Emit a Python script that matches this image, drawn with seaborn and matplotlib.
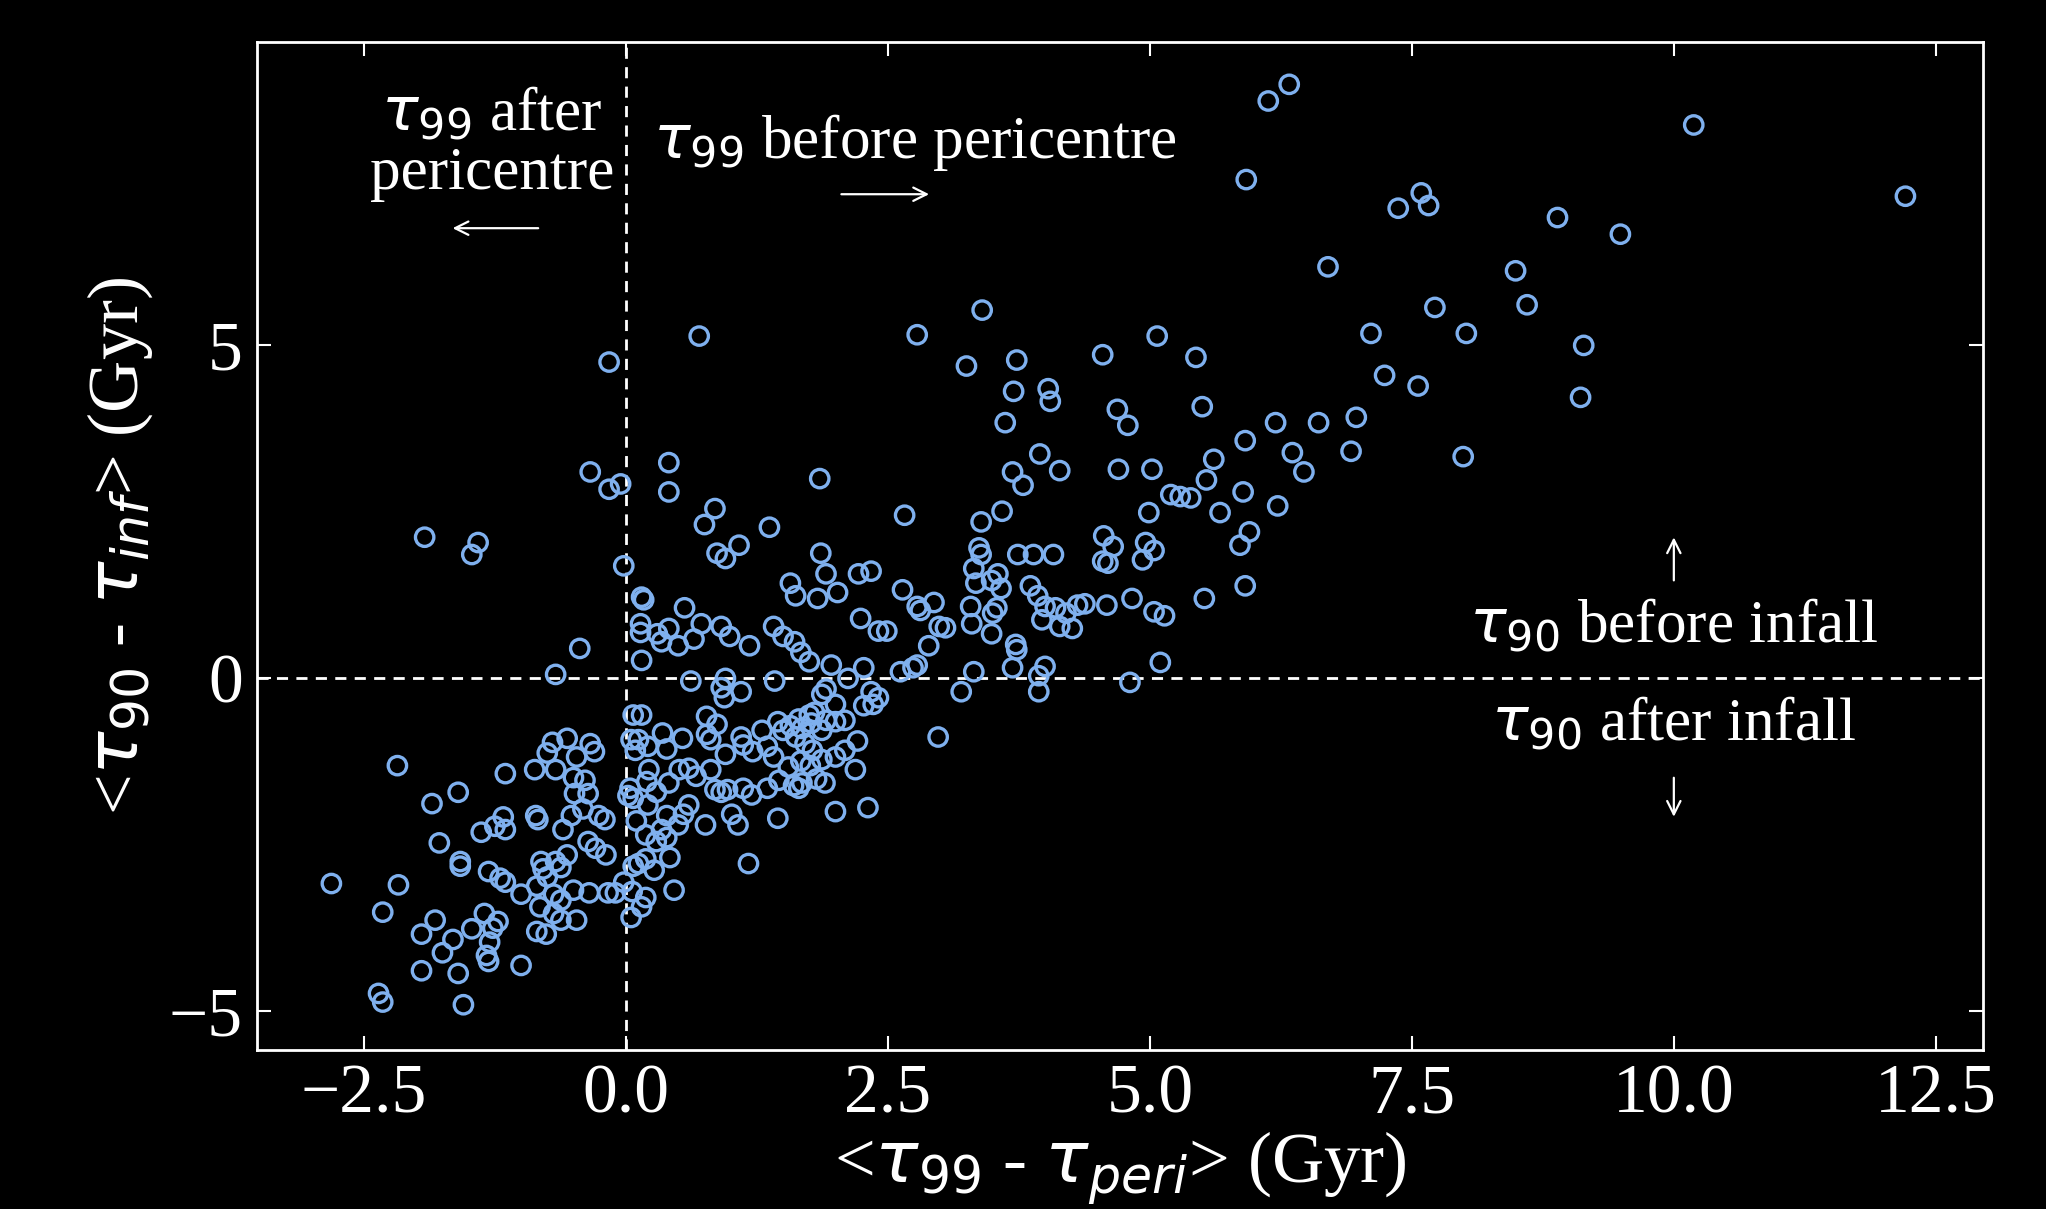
"""
Satellite quenching timescales: tau99 - tau_peri vs tau90 - tau_inf
"""
import numpy as np
import pandas as pd
import matplotlib
matplotlib.use("Agg")
import matplotlib.pyplot as plt
import seaborn as sns

# <tau99 - tau_peri> (Gyr)
dt_peri = [
    6.33, 6.13, 10.19, 12.21, 5.92, 7.59, 7.37, 7.66, 8.89, 9.49,
    6.70, 8.49, 8.60, 7.72, 3.40, 2.78, 0.70, 7.11, 8.02, 5.07,
    9.14, -0.16, 3.73, 4.55, 5.44, 3.25, 7.24, 7.56, 3.70, 4.03,
    4.05, 9.11, 5.50, 4.69, 4.79, 3.62, 6.20, 6.61, 6.97, 5.91,
    6.92, 7.99, 6.36, 3.95, 4.14, 4.70, 5.02, 5.61, 6.47, 3.69,
    3.79, 5.89, 6.22, 5.54, 5.20, 5.29, 5.39, 4.99, 5.67, 3.59,
    3.39, 5.95, 5.86, 4.56, 4.65, 4.96, 5.04, 4.93, 4.55, 4.60,
    5.91, 5.52, 4.83, 5.04, 5.14, 4.59, 5.10, 4.81,
    # middle band
    2.66, 3.37, 3.39, 3.74, 3.89, 4.08, 3.55, 3.49, 3.32, 3.34,
    3.58, 3.86, 3.93, 4.00, 4.10, 4.20, 4.31, 4.38, 3.97, 4.14,
    4.26, 3.29, 3.54, 3.50, 3.30, 3.49, 3.72, 3.73, 2.64, 2.78,
    2.81, 2.94, 3.05, 2.99, 2.89, 2.78, 2.74, 2.62, 3.32, 3.69,
    3.94, 4.00, 3.94, 3.20, 2.98,
    # 0 .. 2.5, positive side
    1.85, 1.57, 1.62, 1.86, 1.91, 1.83, 2.02, 2.22, 2.34, 2.24,
    2.41, 2.49, 2.27, 1.41, 1.50, 1.61, 1.67, 1.75, 1.96, 2.12,
    1.91, 1.87, 1.42, 1.18, 0.99, 1.08, 1.37, 0.85, 0.75, 0.87,
    0.95, 0.41, 0.41, -0.05, -0.16, -0.34, -0.02, 0.15, 0.17, 0.14,
    0.14, 0.30, 0.41, 0.50, 0.34, 0.15, 0.56, 0.65, 0.72, 0.91,
    0.62, 0.91, 0.95, 0.94, 1.10, -0.44, -0.67, -1.92, -1.41, -1.47,
    # 0 .. 2.5, negative side
    0.07, 0.15, 0.05, 0.12, 0.09, 0.21, 0.39, 0.35, 0.54, 0.77,
    0.77, 0.81, 0.87, 1.10, 1.12, 1.30, 1.45, 1.50, 1.57, 1.65,
    1.68, 1.75, 1.77, 1.80, 1.62, 1.71, 1.78, 1.87, 1.91, 2.00,
    2.09, 2.27, 2.36, 2.41, 2.34, 2.00, 2.21, 2.09, 2.00, 1.87,
    1.76, 1.82, 1.67, 1.55, 1.41, 1.35, 1.21, 0.95, 0.81, 0.67,
    0.60, 0.51, 0.41, 0.22, 0.20, 0.04, 0.02, 0.07, 0.21, 0.29,
    0.85, 0.91, 0.97, 1.12, 1.20, 1.35, 1.46, 1.60, 1.65, 1.68,
    1.90, 2.00, 2.19, 2.31, 1.45, 1.07, 1.01, 0.76, 0.60, 0.55,
    0.50, 0.39, 0.34, 0.19, 0.29, 0.39, 0.10, 0.07, 0.19, 0.12,
    0.27, 0.42, 0.46, 1.17, 0.19, 0.15, 0.05, 0.06, -0.10, -0.17,
    -0.02,
    # left of zero
    -0.34, -0.30, -0.47, -0.56, -0.70, -0.75, -0.67, -0.87, -1.15, -0.50,
    -0.39, -0.49, -0.36, -1.60, -1.85, -2.18, -0.52, -0.41, -0.26, -0.20,
    -0.86, -0.84, -1.17, -1.25, -1.38, -1.15, -1.78, -1.58, -1.58, -0.60,
    -0.36, -0.29, -0.19, -0.56, -0.67, -0.62, -0.81, -0.79, -0.75, -1.31,
    -1.20, -1.15, -1.00, -0.85, -0.69, -0.62, -0.69, -0.62, -0.47, -0.50,
    -0.35, -0.82, -0.76, -0.85, -1.00, -1.22, -1.27, -1.30, -1.33, -1.31,
    -1.47, -1.65, -1.75, -1.82, -1.95, -1.60, -1.55, -1.95, -2.36, -2.32,
    -2.32, -2.17, -2.81, -1.35,
]

# <tau90 - tau_inf> (Gyr)
dt_inf = [
    8.92, 8.67, 8.31, 7.24, 7.49, 7.29, 7.06, 7.10, 6.92, 6.67,
    6.18, 6.12, 5.61, 5.57, 5.53, 5.16, 5.14, 5.18, 5.18, 5.14,
    5.00, 4.75, 4.78, 4.86, 4.82, 4.69, 4.55, 4.39, 4.31, 4.35,
    4.16, 4.22, 4.08, 4.04, 3.80, 3.84, 3.84, 3.84, 3.92, 3.57,
    3.41, 3.33, 3.39, 3.37, 3.12, 3.14, 3.14, 3.29, 3.10, 3.10,
    2.90, 2.80, 2.59, 2.98, 2.76, 2.73, 2.71, 2.49, 2.49, 2.51,
    2.35, 2.20, 2.00, 2.14, 1.98, 2.04, 1.92, 1.78, 1.76, 1.73,
    1.39, 1.20, 1.20, 1.00, 0.94, 1.10, 0.24, -0.06,
    # middle band
    2.45, 1.96, 1.86, 1.86, 1.86, 1.86, 1.57, 1.47, 1.65, 1.43,
    1.35, 1.39, 1.24, 1.08, 1.06, 0.98, 1.10, 1.12, 0.88, 0.78,
    0.75, 1.08, 1.06, 0.98, 0.82, 0.67, 0.51, 0.43, 1.33, 1.08,
    1.02, 1.14, 0.76, 0.78, 0.49, 0.20, 0.16, 0.10, 0.10, 0.16,
    0.04, 0.18, -0.20, -0.20, -0.88,
    # 0 .. 2.5, positive side
    3.00, 1.43, 1.24, 1.88, 1.57, 1.20, 1.29, 1.57, 1.61, 0.90,
    0.71, 0.71, 0.16, 0.78, 0.63, 0.55, 0.39, 0.25, 0.20, 0.00,
    -0.16, -0.24, -0.04, 0.49, 0.63, 2.00, 2.27, 2.55, 2.31, 1.88,
    1.80, 3.24, 2.80, 2.92, 2.84, 3.10, 1.69, 1.22, 1.18, 0.82,
    0.69, 0.67, 0.75, 0.49, 0.55, 0.27, 1.06, 0.59, 0.82, 0.78,
    -0.04, -0.14, 0.00, -0.29, -0.20, 0.45, 0.06, 2.12, 2.04, 1.86,
    # 0 .. 2.5, negative side
    -0.55, -0.55, -0.92, -0.92, -1.08, -1.02, -1.06, -0.82, -0.90, -0.57,
    -0.84, -0.92, -0.69, -0.88, -1.00, -0.78, -0.65, -0.78, -0.71, -0.61,
    -0.75, -0.55, -0.67, -0.51, -0.88, -0.98, -1.08, -0.78, -0.63, -0.65,
    -0.63, -0.41, -0.39, -0.29, -0.20, -0.39, -0.94, -1.08, -1.18, -1.22,
    -1.31, -1.51, -1.24, -1.33, -1.18, -1.02, -1.10, -1.14, -1.37, -1.47,
    -1.35, -1.37, -1.57, -1.37, -1.55, -1.65, -1.76, -1.80, -1.90, -1.71,
    -1.67, -1.71, -1.67, -1.65, -1.75, -1.65, -1.53, -1.61, -1.65, -1.57,
    -1.57, -2.00, -1.37, -1.94, -2.10, -2.20, -2.04, -2.20, -1.90, -2.04,
    -2.20, -2.06, -2.27, -2.35, -2.45, -2.39, -2.14, -2.82, -2.71, -2.78,
    -2.88, -2.69, -3.18, -2.78, -3.29, -3.43, -3.59, -3.20, -3.22, -3.22,
    -3.06,
    # left of zero
    -0.98, -1.10, -1.18, -0.90, -0.96, -1.12, -1.37, -1.37, -1.43, -1.49,
    -1.53, -1.73, -1.73, -1.71, -1.88, -1.31, -2.06, -1.96, -2.06, -2.12,
    -2.06, -2.12, -2.08, -2.22, -2.31, -2.27, -2.47, -2.75, -2.82, -2.27,
    -2.45, -2.55, -2.65, -2.65, -2.75, -2.84, -2.75, -2.86, -2.98, -2.90,
    -3.00, -3.06, -3.24, -3.12, -3.24, -3.33, -3.53, -3.63, -3.63, -3.18,
    -3.22, -3.43, -3.84, -3.80, -4.31, -3.65, -3.75, -3.96, -4.16, -4.25,
    -3.76, -3.92, -4.12, -3.63, -3.84, -4.43, -4.90, -4.39, -4.73, -4.86,
    -3.51, -3.10, -3.08, -3.53,
]

xticks = [-2.5, 0.0, 2.5, 5.0, 7.5, 10.0, 12.5]
yticks = [-5, 0, 5]

df = pd.DataFrame({"dt_peri": dt_peri, "dt_inf": dt_inf})

sns.set_style("ticks")
plt.rcParams["font.family"] = ["Liberation Serif", "DejaVu Serif"]
plt.rcParams["mathtext.fontset"] = "dejavusans"

fg = "white"
fig = plt.figure(figsize=(20.46, 12.09), dpi=100, facecolor="black")
ax = fig.add_axes([0.1256, 0.1315, 0.8436, 0.834])
ax.set_facecolor("black")

ax.axvline(0, color=fg, ls="--", lw=2, dashes=(4, 3), zorder=1)
ax.axhline(0, color=fg, ls="--", lw=2, dashes=(4, 3), zorder=1)

sns.scatterplot(data=df, x="dt_peri", y="dt_inf", ax=ax, s=175,
                marker="o", color="#7fb0ee", facecolor="none",
                edgecolor="#7fb0ee", linewidth=2.4, zorder=3)

ax.set_xlim(-3.52, 12.95)
ax.set_ylim(-5.58, 9.56)
ax.set_xticks(xticks)
ax.set_yticks(yticks)
ax.tick_params(axis="both", which="major", direction="in", length=10,
               width=1.5, colors=fg, labelsize=50, top=True, right=True,
               pad=10)
for sp in ax.spines.values():
    sp.set_color(fg)
    sp.set_linewidth(2)

ax.set_xlabel(r"<$\tau_{99}$ - $\tau_{peri}$> (Gyr)",
              fontsize=52, color=fg, labelpad=2)
ax.set_ylabel(r"<$\tau_{90}$ - $\tau_{inf}$> (Gyr)",
              fontsize=52, color=fg, labelpad=10)

# region annotations
txt = dict(color=fg, fontsize=44, ha="center", va="center")
ax.text(-1.28, 8.03, "$\\tau_{99}$ after\npericentre", linespacing=1.05, **txt)
ax.text(2.76, 8.04, "$\\tau_{99}$ before pericentre", **txt)
ax.text(10.0, 0.78, "$\\tau_{90}$ before infall", **txt)
ax.text(10.0, -0.69, "$\\tau_{90}$ after infall", **txt)

arr = dict(arrowstyle="->", color=fg, lw=1.6, mutation_scale=24)
ax.annotate("", xy=(-1.68, 6.76), xytext=(-0.81, 6.76), arrowprops=arr)
ax.annotate("", xy=(2.92, 7.27), xytext=(2.03, 7.27), arrowprops=arr)
ax.annotate("", xy=(10.0, 2.16), xytext=(10.0, 1.43), arrowprops=arr)
ax.annotate("", xy=(10.0, -2.12), xytext=(10.0, -1.45), arrowprops=arr)

fig.savefig("out.png", dpi=100, facecolor="black")
